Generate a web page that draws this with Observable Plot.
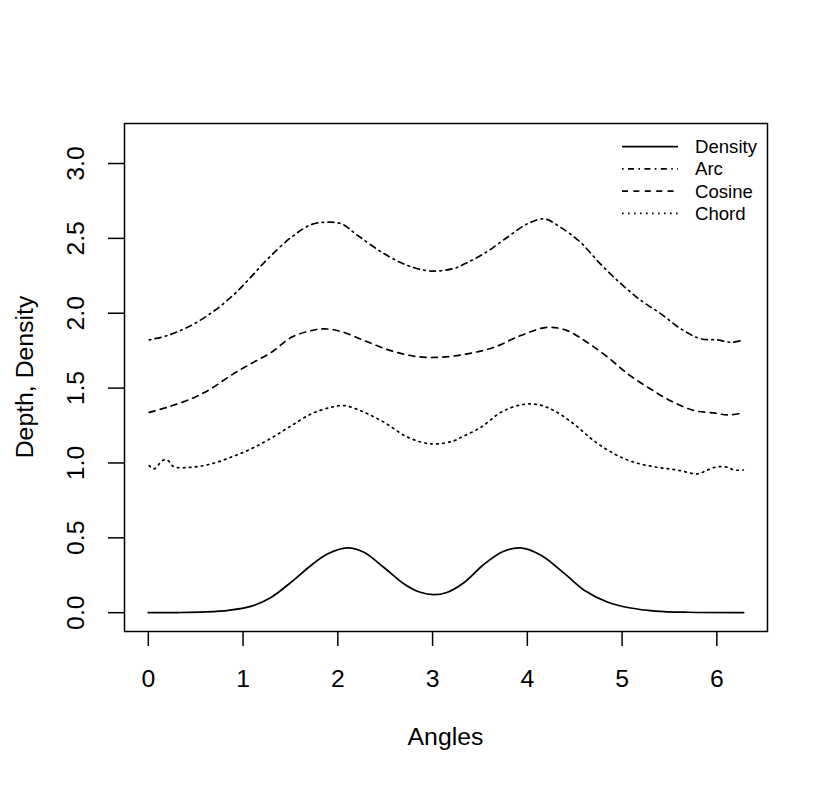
<!DOCTYPE html>
<html>
<head>
<meta charset="utf-8">
<script src="https://cdn.jsdelivr.net/npm/d3@7"></script>
<script src="https://cdn.jsdelivr.net/npm/@observablehq/plot@0.6"></script>
<style>
  html, body { margin: 0; padding: 0; background: #fff; }
  #chart { width: 830px; height: 786px; }
</style>
</head>
<body>
<div id="chart"></div>
<script>
// ---- data ----
const seriesNames = ["Density", "Arc", "Cosine", "Chord"];

const densityX = [0, 0.3, 0.6, 0.85, 1.08, 1.29, 1.50, 1.71, 1.89, 2.10, 2.27, 2.49, 2.70, 2.87, 3.01, 3.15, 3.33, 3.54, 3.75, 3.93, 4.14, 4.39, 4.60, 4.85, 5.09, 5.35, 5.7, 6.283];
const densityY = [0, 0.001, 0.005, 0.016, 0.042, 0.100, 0.200, 0.312, 0.392, 0.433, 0.405, 0.300, 0.192, 0.136, 0.120, 0.135, 0.200, 0.322, 0.410, 0.433, 0.385, 0.262, 0.150, 0.070, 0.031, 0.011, 0.003, 0.001];

const arcX = [0.01, 0.20, 0.45, 0.70, 0.91, 1.08, 1.26, 1.51, 1.72, 1.89, 2.04, 2.21, 2.49, 2.74, 2.99, 3.23, 3.30, 3.54, 3.79, 4.00, 4.18, 4.35, 4.56, 4.77, 4.99, 5.20, 5.41, 5.62, 5.83, 6.01, 6.15, 6.28];
const arcY = [1.822, 1.851, 1.918, 2.018, 2.129, 2.240, 2.363, 2.508, 2.592, 2.608, 2.597, 2.519, 2.397, 2.318, 2.281, 2.300, 2.318, 2.397, 2.508, 2.597, 2.630, 2.574, 2.474, 2.330, 2.196, 2.085, 1.996, 1.896, 1.829, 1.822, 1.806, 1.822];

const cosineX = [0.01, 0.20, 0.45, 0.66, 0.87, 1.08, 1.30, 1.51, 1.72, 1.86, 2.04, 2.28, 2.56, 2.84, 3.08, 3.37, 3.65, 3.93, 4.21, 4.42, 4.63, 4.85, 5.06, 5.27, 5.51, 5.76, 5.97, 6.11, 6.28];
const cosineY = [1.338, 1.372, 1.428, 1.495, 1.584, 1.662, 1.739, 1.839, 1.884, 1.896, 1.877, 1.817, 1.750, 1.710, 1.706, 1.729, 1.773, 1.851, 1.906, 1.884, 1.806, 1.706, 1.595, 1.506, 1.416, 1.350, 1.334, 1.321, 1.334];

const chordX = [0.01, 0.06, 0.15, 0.20, 0.27, 0.45, 0.66, 0.87, 1.08, 1.30, 1.51, 1.72, 1.93, 2.07, 2.28, 2.49, 2.74, 2.99, 3.23, 3.30, 3.51, 3.72, 3.93, 4.11, 4.28, 4.49, 4.70, 4.92, 5.13, 5.37, 5.58, 5.80, 5.90, 6.01, 6.11, 6.18, 6.28];
const chordY = [0.982, 0.960, 1.016, 1.020, 0.975, 0.971, 0.993, 1.038, 1.093, 1.167, 1.249, 1.328, 1.372, 1.383, 1.338, 1.271, 1.171, 1.127, 1.149, 1.171, 1.238, 1.338, 1.388, 1.390, 1.350, 1.261, 1.149, 1.060, 1.004, 0.971, 0.953, 0.927, 0.953, 0.975, 0.971, 0.953, 0.953];

const xTicks = [0, 1, 2, 3, 4, 5, 6];
const yTicks = [0, 0.5, 1, 1.5, 2, 2.5, 3];
const xLabel = "Angles";
const yLabel = "Depth, Density";

// ---- styles (kept separate from data) ----
const dashes = {Density: null, Arc: "1.6,4.4,6,4.4", Cosine: "6,5.4", Chord: "1.6,4.4"};
const FONT = "'Liberation Sans', Arial, Helvetica, sans-serif";
const LW = 1.7;

const xsBy = {Density: densityX, Arc: arcX, Cosine: cosineX, Chord: chordX};
const ysBy = {Density: densityY, Arc: arcY, Cosine: cosineY, Chord: chordY};
const rows = name => xsBy[name].map((x, i) => ({angle: x, value: ysBy[name][i], series: name}));

const W = 830, H = 786;
const mL = 124, mR = 63, mT = 123, mB = 155;

const plot = Plot.plot({
  width: W,
  height: H,
  marginLeft: mL,
  marginRight: mR,
  marginTop: mT,
  marginBottom: mB,
  style: {fontFamily: FONT, fontSize: "24.8px", color: "black", background: "white", overflow: "visible"},
  x: {domain: [-0.2513, 6.5345]},
  y: {domain: [-0.1257, 3.2673]},
  marks: [
    Plot.frame({stroke: "black", strokeWidth: 1.5}),
    ...seriesNames.map(name => Plot.line(rows(name), {
      x: "angle", y: "value", stroke: "black", strokeWidth: LW,
      strokeDasharray: dashes[name], curve: "catmull-rom"
    })),
    Plot.axisX(xTicks, {
      tickSize: 15, tickPadding: 23, strokeWidth: 1.5, label: null,
      fontSize: 24.8, tickFormat: d => String(d)
    }),
    Plot.axisY(yTicks, {
      tickSize: 16, tickPadding: 24.5, strokeWidth: 1.5, label: null,
      fontSize: 24.8, tickRotate: -90, textAnchor: "middle", lineAnchor: "bottom",
      tickFormat: d => d.toFixed(1)
    })
  ]
});

document.getElementById("chart").appendChild(plot);

// ---- axis titles and legend ----
const svg = d3.select(plot);
const cx = mL + (W - mL - mR) / 2;
const cy = mT + (H - mT - mB) / 2;

svg.append("text")
  .attr("x", cx).attr("y", H - mB + 114)
  .attr("text-anchor", "middle")
  .attr("font-family", FONT).attr("font-size", 24.8).attr("fill", "black")
  .text(xLabel);

svg.append("text")
  .attr("transform", `translate(33,${cy}) rotate(-90)`)
  .attr("text-anchor", "middle")
  .attr("font-family", FONT).attr("font-size", 24.8).attr("fill", "black")
  .text(yLabel);

const legend = svg.append("g").attr("transform", `translate(${W - mR - 145},${mT + 23.7})`);
seriesNames.forEach((name, i) => {
  const g = legend.append("g").attr("transform", `translate(0,${i * 22.2})`);
  g.append("line")
    .attr("x1", 0).attr("x2", 56).attr("y1", 0).attr("y2", 0)
    .attr("stroke", "black").attr("stroke-width", LW)
    .attr("stroke-dasharray", dashes[name]);
  g.append("text")
    .attr("x", 73).attr("y", 0).attr("dy", "0.35em")
    .attr("text-anchor", "start")
    .attr("font-family", FONT).attr("font-size", 18.6).attr("fill", "black")
    .text(name);
});
</script>
</body>
</html>
